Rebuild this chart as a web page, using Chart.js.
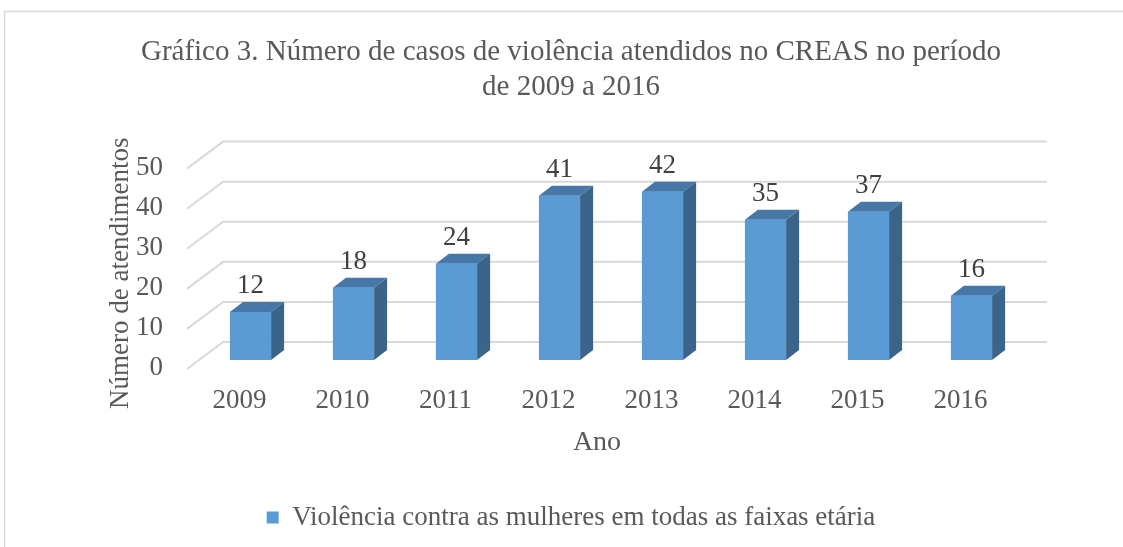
<!DOCTYPE html>
<html>
<head>
<meta charset="utf-8">
<script src="https://cdn.jsdelivr.net/npm/chart.js@4/dist/chart.umd.min.js"></script>
<style>
  html, body { margin: 0; padding: 0; background: #fff; }
  #wrap { width: 1123px; height: 547px; }
</style>
</head>
<body>
<div id="wrap"><canvas id="grafico" width="1123" height="547"></canvas></div>
<script>
const anos = ['2009', '2010', '2011', '2012', '2013', '2014', '2015', '2016'];
const casos = [12, 18, 24, 41, 42, 35, 37, 16];
const escalaY = { min: 0, max: 50, passo: 10 };
const titulo = ['Gráfico 3. Número de casos de violência atendidos no CREAS no período', 'de 2009 a 2016'];
const serieNome = 'Violência contra as mulheres em todas as faixas etária';

const FONTE = 'Liberation Serif';
const CINZA = '#595959';
const PROF = { dx: 13, dy: -10 };      // profundidade das barras
const PAREDE = { dx: 24, dy: -18, fx: -12, fy: 9 };  // parede de fundo / piso

// moldura externa do gráfico
const moldura = {
    id: 'moldura',
    beforeDraw(chart) {
        const c = chart.ctx;
        c.save();
        c.fillStyle = '#fff';
        c.fillRect(0, 0, chart.width, chart.height);
        c.strokeStyle = '#d9d9d9';
        c.lineWidth = 1.5;
        c.strokeRect(4.5, 11.5, chart.width + 20, chart.height + 20);
        c.restore();
    }
};

// linhas de grade "3D" na parede do fundo
const grade3d = {
    id: 'grade3d',
    beforeDatasetsDraw(chart) {
        const c = chart.ctx, y = chart.scales.y, a = chart.chartArea;
        c.save();
        c.strokeStyle = '#d9d9d9';
        c.lineWidth = 2;
        y.ticks.forEach(t => {
            const py = y.getPixelForValue(t.value);
            c.beginPath();
            c.moveTo(a.left + PAREDE.fx, py + PAREDE.fy);
            c.lineTo(a.left + PAREDE.dx, py + PAREDE.dy);
            c.lineTo(a.right + PAREDE.dx, py + PAREDE.dy);
            c.stroke();
        });
        c.restore();
    }
};

// faces laterais/topo das barras + rótulos de dados
const barras3d = {
    id: 'barras3d',
    afterDatasetsDraw(chart) {
        const c = chart.ctx;
        const meta = chart.getDatasetMeta(0);
        c.save();
        meta.data.forEach((bar, i) => {
            const { x, y, base, width } = bar.getProps(['x', 'y', 'base', 'width'], true);
            const l = x - width / 2, r = x + width / 2;
            // topo
            c.fillStyle = '#4677a7';
            c.beginPath();
            c.moveTo(l, y);
            c.lineTo(l + PROF.dx, y + PROF.dy);
            c.lineTo(r + PROF.dx, y + PROF.dy);
            c.lineTo(r, y);
            c.closePath();
            c.fill();
            // lateral
            c.fillStyle = '#3a6489';
            c.beginPath();
            c.moveTo(r, y);
            c.lineTo(r + PROF.dx, y + PROF.dy);
            c.lineTo(r + PROF.dx, base + PROF.dy);
            c.lineTo(r, base);
            c.closePath();
            c.fill();
            // rótulo
            c.fillStyle = '#404040';
            c.font = '27px "' + FONTE + '"';
            c.textAlign = 'center';
            c.textBaseline = 'middle';
            c.fillText(casos[i], x, y - 26);
        });
        c.restore();
    }
};

new Chart(document.getElementById('grafico'), {
    type: 'bar',
    data: {
        labels: anos,
        datasets: [{
            label: serieNome,
            data: casos,
            backgroundColor: '#5b9bd5',
            borderWidth: 0,
            barPercentage: 0.4,
            categoryPercentage: 1
        }]
    },
    options: {
        responsive: false,
        animation: false,
        devicePixelRatio: 1,
        layout: { padding: { top: 0, left: 19, right: 0, bottom: 6 } },
        plugins: {
            title: {
                display: true,
                text: titulo,
                color: CINZA,
                font: { family: FONTE, size: 29, weight: 'normal', lineHeight: 1.2 },
                padding: { top: 35, bottom: 55 }
            },
            legend: {
                position: 'bottom',
                labels: {
                    color: CINZA,
                    font: { family: FONTE, size: 27 },
                    boxWidth: 12,
                    boxHeight: 12,
                    padding: 10
                }
            },
            tooltip: { enabled: false }
        },
        scales: {
            x: {
                grid: { display: false, drawTicks: false },
                border: { display: false },
                ticks: {
                    color: CINZA,
                    font: { family: FONTE, size: 27 },
                    padding: 25,
                    labelOffset: -11
                },
                title: {
                    display: true,
                    text: 'Ano    ',
                    color: CINZA,
                    font: { family: FONTE, size: 28 },
                    padding: { top: 0, bottom: 35 }
                },
                afterFit(s) {
                    s.height = s.chart.height - 6 - s.chart.legend.height - 360;
                }
            },
            y: {
                min: escalaY.min,
                max: escalaY.max,
                grid: { display: false, drawTicks: false },
                border: { display: false },
                ticks: {
                    stepSize: escalaY.passo,
                    color: CINZA,
                    font: { family: FONTE, size: 27 },
                    padding: 36,
                    labelOffset: 8
                },
                title: {
                    display: true,
                    text: 'Número de atendimentos    ',
                    color: CINZA,
                    font: { family: FONTE, size: 27 },
                    padding: { top: 86, bottom: 0 }
                },
                afterFit(s) { s.width = 180; }
            },
            y2: {
                position: 'right',
                display: true,
                grid: { display: false },
                border: { display: false },
                ticks: { display: false },
                afterFit(s) { s.width = 100; }
            }
        }
    },
    plugins: [moldura, grade3d, barras3d]
});
</script>
</body>
</html>
